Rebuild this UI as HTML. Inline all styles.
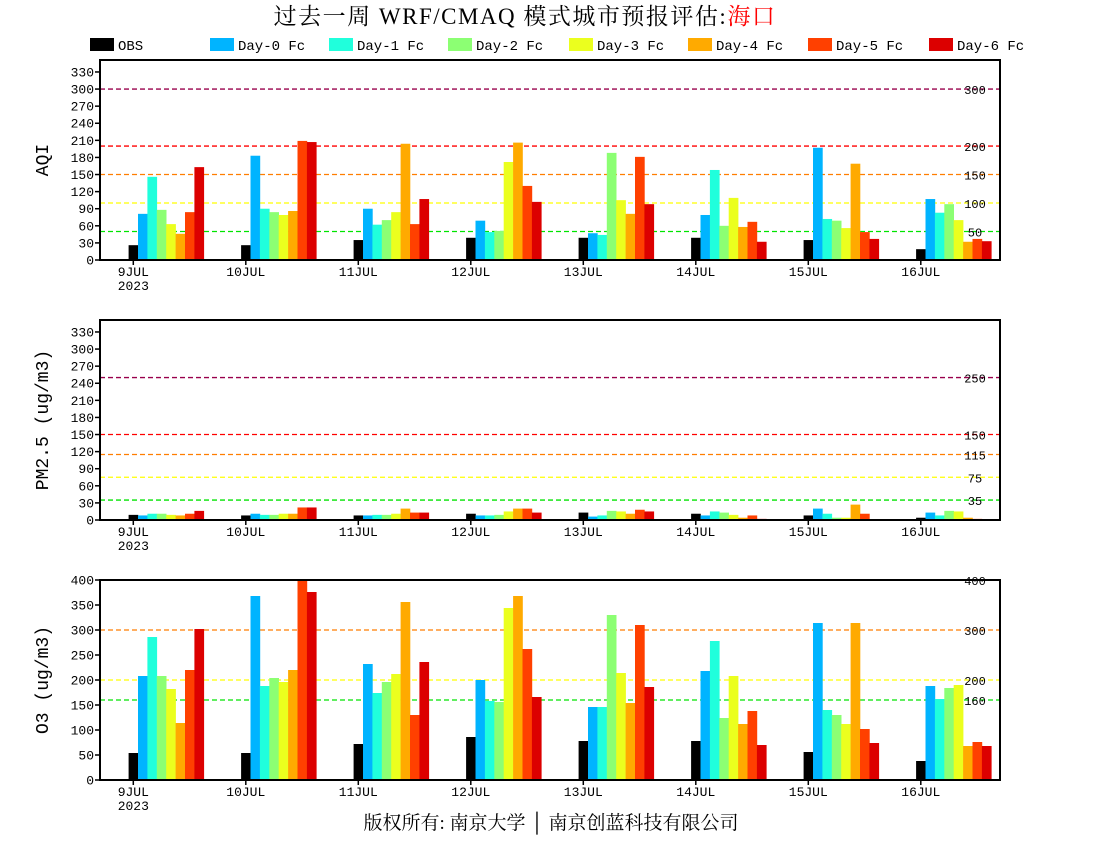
<!DOCTYPE html>
<html><head><meta charset="utf-8"><style>
html,body{margin:0;padding:0;background:#fff;}
svg{display:block;font-family:"Liberation Mono","Noto Sans CJK SC",monospace;}
</style></head><body>
<svg id="chart" width="1100" height="850" xmlns="http://www.w3.org/2000/svg">
<text x="525" y="24" text-anchor="middle" font-size="23" letter-spacing="1.5" font-family="Liberation Serif, Noto Serif CJK SC, serif">过去一周 WRF/CMAQ 模式城市预报评估:<tspan fill="#ff0000">海口</tspan></text>
<text x="551" y="829" text-anchor="middle" font-size="19" font-family="Liberation Serif, Noto Serif CJK SC, serif">版权所有: 南京大学 │ 南京创蓝科技有限公司</text>
</svg>
<script>
const categories = ["9JUL","10JUL","11JUL","12JUL","13JUL","14JUL","15JUL","16JUL"];
const seriesNames = ["OBS","Day-0 Fc","Day-1 Fc","Day-2 Fc","Day-3 Fc","Day-4 Fc","Day-5 Fc","Day-6 Fc"];
const seriesColors = ["#000000","#00b4ff","#20ffdc","#8cff73","#ebff1e","#ffaa00","#ff4000","#dc0000"];
// AQI values per day: [OBS, D0..D6]
const aqiValues = [
 [26,81,146,88,63,46,84,163],
 [26,183,90,84,79,86,209,207],
 [35,90,62,70,84,204,63,107],
 [39,69,49,51,172,206,130,102],
 [39,47,44,188,105,81,181,98],
 [39,79,158,60,109,58,67,32],
 [35,197,72,69,56,169,49,37],
 [19,107,83,98,70,32,37,33]
];
const pmValues = [
 [9,8,11,11,9,8,11,16],
 [8,11,9,9,11,11,22,22],
 [8,8,9,9,11,20,13,13],
 [11,8,8,9,15,20,20,13],
 [13,6,8,16,15,11,18,15],
 [11,8,15,13,9,4,8,2],
 [8,20,11,4,4,27,11,1],
 [4,13,8,16,15,4,2,1]
];
const o3Values = [
 [54,208,286,208,182,114,220,302],
 [54,368,188,204,196,220,400,376],
 [72,232,174,196,212,356,130,236],
 [86,200,158,156,344,368,262,166],
 [78,146,146,330,214,154,310,186],
 [78,218,278,124,208,112,138,70],
 [56,314,140,130,112,314,102,74],
 [38,188,162,184,190,68,76,68]
];
const aqiTicks = [0,30,60,90,120,150,180,210,240,270,300,330];
const pmTicks = [0,30,60,90,120,150,180,210,240,270,300,330];
const o3Ticks = [0,50,100,150,200,250,300,350,400];
const aqiLevels = [50,100,150,200,300];
const pmLevels = [35,75,115,150,250];
const o3Levels = [160,200,300,400];
const levelColors = ["#00e400","#ffff00","#ff7e00","#ff0000","#99004c"];

const NS="http://www.w3.org/2000/svg";
const svg=document.getElementById('chart');
function mk(tag,attrs,parent){const e=document.createElementNS(NS,tag);for(const k in attrs)e.setAttribute(k,attrs[k]);(parent||svg).appendChild(e);return e;}

const legendX=[90,210,329,448,569,688,808,929];
seriesNames.forEach((n,i)=>{
  const g=mk('g',{});
  
  
  mk('rect',{x:legendX[i],y:38,width:24,height:13,fill:seriesColors[i]},g);
  const t=mk('text',{x:legendX[i]+28,y:50,'font-size':14},g);t.textContent=n;
});

const X0=100,X1=1000,dayW=112.5,barW=9.4,barOff=28.6;
function xBar(day,s){return X0+barOff+day*dayW+s*barW;}

function panel(name,top,bottom,maxV,ticks,levels,levelCols,values,title){
  const h=bottom-top;
  const y=v=>bottom-v/maxV*h;
  const g=mk('g',{});
  
  
  levels.forEach((lv,i)=>{
    const c=levelCols[i];
    const l=mk('line',{x1:X0,x2:X1,y1:y(lv),y2:y(lv),stroke:c,'stroke-width':1.3,'stroke-dasharray':'5,3'},g);
    
    
    const t=mk('text',{x:975,y:y(lv)+5,'text-anchor':'middle','font-size':12,fill:'#000'},g);
    t.textContent=lv;
    
    
  });
  values.forEach((row,d)=>{
    row.forEach((v,s)=>{
      const yy=y(Math.min(v,maxV));
      const r=mk('rect',{x:xBar(d,s),y:yy,width:barW+0.3,height:Math.max(0,bottom-yy),fill:seriesColors[s]},g);
      
      
    });
  });
  const f=mk('rect',{x:X0,y:top,width:X1-X0,height:h,fill:'none',stroke:'#000','stroke-width':2},g);
  
  
  ticks.forEach(tv=>{
    mk('line',{x1:X0-5,x2:X0,y1:y(tv),y2:y(tv),stroke:'#000','stroke-width':1.5},g);
    const t=mk('text',{x:X0-6,y:y(tv)+4.5,'text-anchor':'end','font-size':13},g);
    t.textContent=tv;
    
    
  });
  categories.forEach((c,d)=>{
    const xc=xBar(d,0)+barW/2;
    mk('line',{x1:xc,x2:xc,y1:bottom,y2:bottom+5,stroke:'#000','stroke-width':1.5},g);
    const t=mk('text',{x:xc,y:bottom+16,'text-anchor':'middle','font-size':13},g);
    t.textContent=c;
    
    
    if(d===0){const t2=mk('text',{x:xc,y:bottom+30,'text-anchor':'middle','font-size':13},g);t2.textContent='2023';}
  });
  const cy=(top+bottom)/2;
  const at=mk('text',{x:48,y:cy,'text-anchor':'middle','font-size':18,transform:'rotate(-90 48 '+cy+')','font-family':'Liberation Mono, monospace'},g);
  at.textContent=title;
  
  
}
panel('aqi',60,260,351,aqiTicks,aqiLevels,levelColors,aqiValues,'AQI');
panel('pm25',320,520,351,pmTicks,pmLevels,levelColors,pmValues,'PM2.5 (ug/m3)');
panel('o3',580,780,400,o3Ticks,o3Levels,levelColors.slice(0,4),o3Values,'O3 (ug/m3)');
</script>
</body></html>
